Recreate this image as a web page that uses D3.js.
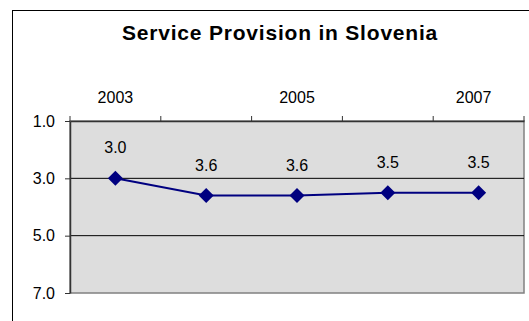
<!DOCTYPE html>
<html><head><meta charset="utf-8">
<script src="https://cdn.jsdelivr.net/npm/d3@7"></script>
<style>
html,body{margin:0;padding:0;background:#fff;}
svg{display:block;font-family:"Liberation Sans",Arial,sans-serif;}
</style></head>
<body>
<svg id="chart" width="529" height="321"></svg>
<script>
const title = "Service Provision in Slovenia";
const years = ["2003","2004","2005","2006","2007"];
const yearLabels = ["2003","2005","2007"];
const values = [3.0, 3.6, 3.6, 3.5, 3.5];
const valueLabels = ["3.0","3.6","3.6","3.5","3.5"];
const yTicks = [1.0, 3.0, 5.0, 7.0];

const svg = d3.select("#chart");
const W = 529, H = 321;
const m = {left:70, right:5, top:121, bottom:28};
const pw = W - m.left - m.right, ph = H - m.top - m.bottom;
const FONT = "Liberation Sans, Arial, sans-serif";

// outer chart border
svg.append("rect").attr("x",12.5).attr("y",10.5).attr("width",W).attr("height",H)
  .attr("fill","none").attr("stroke","#000").attr("stroke-width",1);

svg.append("text").attr("x",280).attr("y",40).attr("text-anchor","middle")
  .attr("font-size",21).attr("font-weight","bold").attr("letter-spacing",0.8).text(title);

const x = d3.scaleBand().domain(years).range([m.left, m.left+pw]);
const y = d3.scaleLinear().domain([1,7]).range([m.top, m.top+ph]);

// plot area
svg.append("rect").attr("x",m.left).attr("y",m.top).attr("width",pw).attr("height",ph)
  .attr("fill","#dddddd").attr("stroke","#808080").attr("stroke-width",1.5);

// gridlines
svg.append("g").selectAll("line").data(yTicks.filter(d=>d>1 && d<7)).join("line")
  .attr("x1",m.left).attr("x2",m.left+pw).attr("y1",d=>y(d)).attr("y2",d=>y(d))
  .attr("stroke","#000").attr("stroke-width",1);

// top axis (category)
const xAxis = d3.axisTop(x).tickSize(4).tickSizeOuter(0).tickFormat(d=>yearLabels.includes(d)?d:"");
const gx = svg.append("g").attr("transform",`translate(0,${m.top})`).call(xAxis);
gx.select(".domain").attr("stroke","#333").attr("stroke-width",1.5);
gx.selectAll(".tick line").remove();
const bounds = years.map(d=>x(d)).concat([m.left+pw]);
gx.selectAll("line.bt").data(bounds).join("line").attr("class","bt")
  .attr("x1",d=>d).attr("x2",d=>d).attr("y1",0).attr("y2",-5).attr("stroke","#333").attr("stroke-width",1);
gx.selectAll(".tick text").attr("font-size",16).attr("font-family",FONT)
  .attr("fill","#000").attr("y",-18).attr("dy",0)
  .attr("dx",(d,i)=> i===years.length-1 ? -5 : 0);

// left axis
const yAxis = d3.axisLeft(y).tickValues(yTicks).tickSize(5).tickSizeOuter(0).tickFormat(d3.format(".1f"));
const gy = svg.append("g").attr("transform",`translate(${m.left},0)`).call(yAxis);
gy.select(".domain").attr("stroke","#333").attr("stroke-width",1.5);
gy.selectAll(".tick line").attr("stroke","#333");
gy.selectAll(".tick text").attr("font-size",16).attr("font-family",FONT)
  .attr("fill","#000").attr("x",-15);

// line
const cx = d => x(d) + x.bandwidth()/2;
svg.append("path").datum(values.map((v,i)=>[cx(years[i]), y(v)]))
  .attr("d", d3.line()).attr("fill","none").attr("stroke","#000080").attr("stroke-width",2);

// markers (square diamonds)
svg.append("g").selectAll("path").data(values).join("path")
  .attr("d","M0,-7.5L7.5,0L0,7.5L-7.5,0Z")
  .attr("transform",(d,i)=>`translate(${cx(years[i])},${y(d)})`)
  .attr("fill","#000080");

// data labels
svg.append("g").selectAll("text").data(values).join("text")
  .attr("x",(d,i)=>cx(years[i])).attr("y",d=>y(d)-25)
  .attr("text-anchor","middle").attr("font-size",16).text((d,i)=>valueLabels[i]);
</script>
</body></html>
